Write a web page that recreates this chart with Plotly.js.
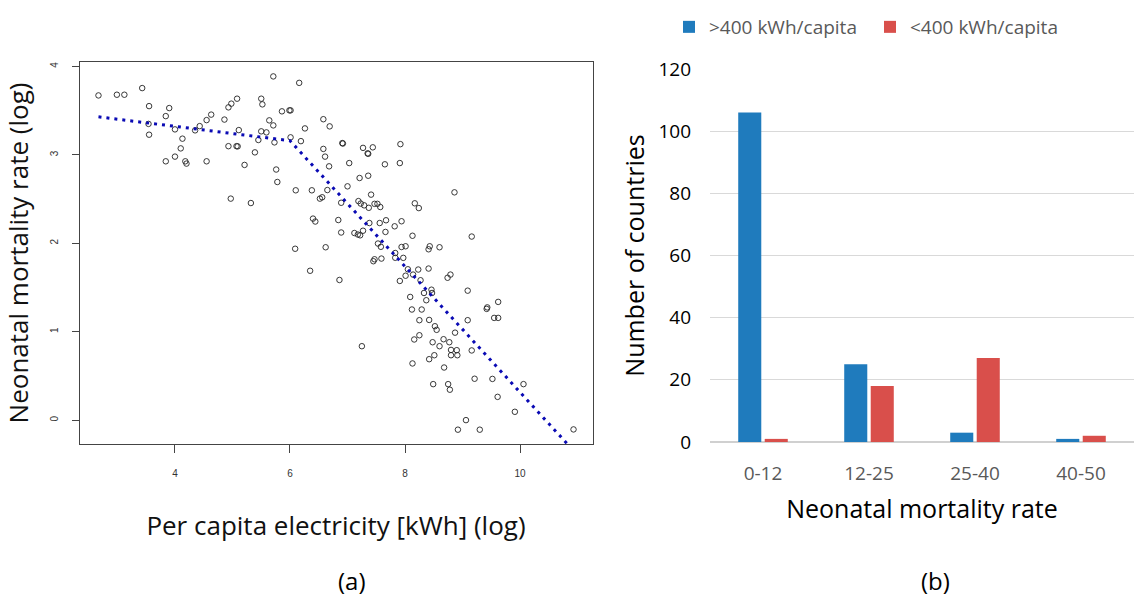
<!DOCTYPE html>
<html>
<head>
<meta charset="utf-8">
<script src="https://cdn.plot.ly/plotly-3.0.1.min.js"></script>
<style>html,body{margin:0;padding:0;background:#fff;}#chart{width:1148px;height:596px;}</style>
</head>
<body>
<div id="chart"></div>
<script>
// Panel (a): log per-capita electricity vs log neonatal mortality
const elecLog = [2.67,2.99,3.12,3.43,3.55,3.90,3.84,3.54,3.55,4.00,4.13,4.10,4.00,3.84,4.18,4.20,4.55,4.35,4.43,4.55,
4.63,4.86,4.93,4.98,5.08,5.11,4.93,5.07,5.09,5.21,5.39,5.45,5.50,5.52,4.97,5.32,5.50,5.59,5.64,5.71,
5.71,5.73,5.76,5.78,5.86,5.99,6.01,6.01,6.10,6.16,6.19,6.26,6.38,6.40,6.44,6.52,6.56,6.65,6.09,6.58,
6.69,6.58,6.61,6.68,6.91,6.92,7.03,7.00,7.21,7.36,7.27,7.35,7.36,7.44,7.65,7.91,7.92,7.41,6.89,7.19,
7.23,7.29,7.37,7.47,7.52,7.57,8.17,8.24,8.86,6.84,6.89,7.12,7.18,7.22,7.27,7.38,7.56,7.67,7.66,7.82,
7.94,8.13,9.16,6.62,7.53,7.58,7.94,8.01,8.41,8.43,8.60,6.35,6.86,7.25,7.45,7.47,7.59,7.83,7.83,7.97,
7.91,8.01,8.05,8.14,8.23,8.27,8.41,8.74,8.79,9.09,8.09,8.33,8.37,8.46,8.47,8.12,8.29,8.25,8.42,8.52,
8.55,8.16,8.25,8.48,8.60,8.67,8.77,8.87,8.80,8.90,8.80,8.91,8.42,8.51,8.13,8.68,9.09,9.16,9.42,9.43,
9.62,9.55,9.62,8.49,8.75,8.78,9.21,9.52,9.61,10.06,9.91,9.06,8.92,9.30,10.93];
const mortLog = [3.672,3.680,3.680,3.755,3.551,3.529,3.438,3.350,3.228,3.288,3.183,3.073,2.980,2.927,2.927,2.901,2.927,3.277,3.325,3.393,
3.455,3.399,3.537,3.579,3.635,3.280,3.098,3.098,3.096,2.886,3.028,3.168,3.635,3.571,2.505,2.455,3.266,3.254,3.390,3.333,
3.887,3.141,2.834,2.693,3.492,3.503,3.503,3.198,2.599,3.814,3.155,3.299,2.599,2.279,2.246,2.505,2.520,2.602,1.938,3.403,
3.322,3.067,2.980,2.870,3.133,3.128,2.907,2.644,2.738,2.764,3.079,3.017,3.012,3.085,2.893,2.907,3.121,2.550,2.458,2.477,
2.449,2.429,2.401,2.446,2.446,2.410,2.452,2.398,2.576,2.263,2.122,2.116,2.099,2.090,2.142,2.229,2.229,2.260,2.128,2.192,
2.249,2.085,2.076,1.955,1.997,1.960,1.958,1.966,1.932,1.966,1.955,1.689,1.585,0.836,1.797,1.819,1.827,1.890,1.836,1.835,
1.574,1.633,1.706,1.646,1.703,1.582,1.714,1.610,1.646,1.464,1.393,1.438,1.356,1.475,1.438,1.251,1.251,1.130,1.133,1.062,
1.021,0.912,0.960,0.881,0.836,0.915,0.881,0.989,0.794,0.791,0.734,0.734,0.689,0.734,0.641,0.595,1.130,0.788,1.258,1.275,
1.337,1.156,1.156,0.407,0.407,0.344,0.468,0.466,0.263,0.407,0.094,0.000,-0.108,-0.108,-0.105];
// piecewise fit (breakpoint near 6)
const fitX = [2.67, 6.0, 10.95];
const fitY = [3.43, 3.16, -0.36];
const xTicksA = [4, 6, 8, 10];
const yTicksA = [0, 1, 2, 3, 4];

// Panel (b): histogram of countries by neonatal mortality rate
const rateBins = ['0-12', '12-25', '25-40', '40-50'];
const above400 = [106, 25, 3, 1];
const below400 = [1, 18, 27, 2];
const seriesNames = ['>400 kWh/capita', '<400 kWh/capita'];

const FONT = 'Open Sans, Noto Sans, sans-serif';
const W = 1148, H = 596;
const px = v => v / W;
const py = v => 1 - v / H;

const traces = [
  {x: elecLog, y: mortLog, type: 'scatter', mode: 'markers', xaxis: 'x', yaxis: 'y', showlegend: false,
   marker: {symbol: 'circle-open', size: 5.5, color: '#222', line: {width: 0.9, color: '#222'}}, hoverinfo: 'x+y'},
  {x: fitX, y: fitY, type: 'scatter', mode: 'lines', xaxis: 'x', yaxis: 'y', showlegend: false,
   line: {color: '#0a0ab4', width: 3, dash: '3px,5px'}, hoverinfo: 'skip'},
  {x: rateBins, y: above400, type: 'bar', name: seriesNames[0], xaxis: 'x2', yaxis: 'y2',
   marker: {color: '#1f7bbd'}},
  {x: rateBins, y: below400, type: 'bar', name: seriesNames[1], xaxis: 'x2', yaxis: 'y2',
   marker: {color: '#d94f4b'}}
];

const layout = {
  width: W, height: H,
  margin: {l: 0, r: 0, t: 0, b: 0},
  paper_bgcolor: '#fff', plot_bgcolor: '#fff',
  font: {family: FONT, color: '#000'},
  barmode: 'group', bargap: 0.5, bargroupgap: 0.13,
  showlegend: true,
  legend: {orientation: 'h', x: px(669), xanchor: 'left', y: py(27), yanchor: 'middle',
           entrywidth: 156, entrywidthmode: 'pixels',
           font: {family: FONT, size: 19, color: '#595959'}, bgcolor: 'rgba(0,0,0,0)'},
  xaxis: {domain: [px(79.5), px(592.5)], range: [2.34, 11.26], anchor: 'y',
          tickmode: 'array', tickvals: xTicksA, ticktext: xTicksA.map(String),
          ticks: 'outside', ticklen: 8, tickwidth: 1, tickcolor: '#444', ticklabelstandoff: 12,
          showline: true, mirror: true, linecolor: '#444', linewidth: 1,
          showgrid: false, zeroline: false,
          tickfont: {family: 'Liberation Sans, Arial, sans-serif', size: 10, color: '#333'},
          title: {text: 'Per capita electricity [kWh] (log)', font: {family: FONT, size: 26, color: '#111'}, standoff: 38}},
  yaxis: {domain: [py(444), py(62)], range: [-0.27, 4.05], anchor: 'x',
          tickmode: 'array', tickvals: yTicksA, ticktext: yTicksA.map(String), tickangle: -90,
          ticks: 'outside', ticklen: 7, tickwidth: 1, tickcolor: '#444', ticklabelstandoff: 10,
          showline: true, mirror: true, linecolor: '#444', linewidth: 1,
          showgrid: false, zeroline: false,
          tickfont: {family: 'Liberation Sans, Arial, sans-serif', size: 10, color: '#333'},
          title: {text: 'Neonatal mortality rate (log)', font: {family: FONT, size: 26, color: '#111'}, standoff: 16}},
  xaxis2: {domain: [px(710), px(1134)], anchor: 'y2', type: 'category',
           showline: false, ticks: '', showgrid: false, zeroline: false, ticklabelstandoff: 18,
           tickfont: {family: FONT, size: 19, color: '#595959'},
           title: {text: 'Neonatal mortality rate', font: {family: FONT, size: 25, color: '#000'}, standoff: 15}},
  yaxis2: {domain: [py(442), py(69)], anchor: 'x2', range: [0, 120], dtick: 20,
           showline: false, ticks: '', showgrid: true, gridcolor: '#d9d9d9', gridwidth: 1,
           zeroline: true, zerolinecolor: '#d0d0d0', zerolinewidth: 1.5, ticklabelstandoff: 18,
           tickfont: {family: FONT, size: 19, color: '#000'},
           title: {text: 'Number of countries', font: {family: FONT, size: 25, color: '#000'}, standoff: 6}},
  annotations: [
    {text: '(a)', x: px(352), y: py(580), xref: 'paper', yref: 'paper', showarrow: false,
     font: {family: FONT, size: 24, color: '#000'}, xanchor: 'center', yanchor: 'middle'},
    {text: '(b)', x: px(935), y: py(580), xref: 'paper', yref: 'paper', showarrow: false,
     font: {family: FONT, size: 24, color: '#000'}, xanchor: 'center', yanchor: 'middle'}
  ]
};

Plotly.newPlot('chart', traces, layout, {displayModeBar: false, responsive: false});
</script>
</body>
</html>
